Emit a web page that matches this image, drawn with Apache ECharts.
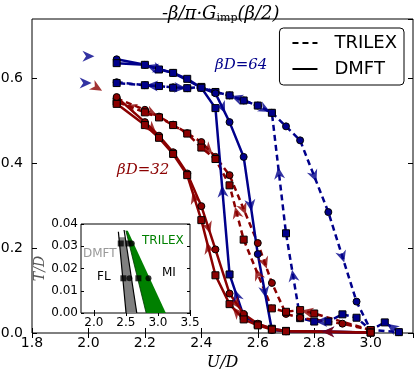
<!DOCTYPE html>
<html><head><meta charset="utf-8">
<script src="https://cdn.jsdelivr.net/npm/echarts@6/dist/echarts.min.js"></script>
<style>html,body{margin:0;padding:0;background:#fff}#c{width:415px;height:372px}</style>
</head><body><div id="c"></div>
<script>
// ---- main panel data: [U/D, -beta/pi * G_imp(beta/2)] ----
// beta D = 64, DMFT (solid blue)
const dmft64Up = [[2.1,0.645],[2.2,0.632],[2.3,0.613],[2.4,0.578],[2.45,0.565],[2.5,0.497],[2.55,0.415],[2.6,0.186],[2.65,0.007],[2.7,0.004],[3.0,0.001]];
const dmft64Down = [[3.0,0.001],[2.7,0.005],[2.65,0.01],[2.6,0.02],[2.55,0.04],[2.5,0.138],[2.45,0.53],[2.4,0.578],[2.35,0.599],[2.3,0.613],[2.25,0.621],[2.2,0.632],[2.1,0.636]];
// beta D = 32, DMFT (solid red)
const dmft32Up = [[2.1,0.556],[2.2,0.497],[2.25,0.465],[2.3,0.426],[2.35,0.376],[2.4,0.299],[2.45,0.197],[2.5,0.093],[2.55,0.045],[2.6,0.022],[2.65,0.01],[2.7,0.005],[3.0,0.001]];
const dmft32Down = [[3.0,0.001],[2.7,0.004],[2.65,0.008],[2.6,0.018],[2.55,0.032],[2.5,0.068],[2.45,0.136],[2.4,0.266],[2.35,0.372],[2.3,0.422],[2.25,0.46],[2.2,0.49],[2.1,0.54]];
// beta D = 32, TRILEX (dashed red)
const trilex32Up = [[2.1,0.553],[2.2,0.526],[2.25,0.51],[2.3,0.491],[2.35,0.471],[2.4,0.45],[2.45,0.415],[2.5,0.372],[2.6,0.212],[2.65,0.118],[2.7,0.045],[2.75,0.036],[2.9,0.022],[3.0,0.007]];
const trilex32Down = [[3.0,0.007],[2.8,0.046],[2.75,0.054],[2.7,0.05],[2.65,0.058],[2.55,0.22],[2.5,0.348],[2.45,0.41],[2.4,0.437],[2.35,0.47],[2.3,0.49],[2.25,0.508],[2.2,0.52],[2.1,0.545]];
// beta D = 64, TRILEX (dashed blue)
const trilex64Up = [[2.1,0.591],[2.2,0.584],[2.25,0.582],[2.3,0.579],[2.35,0.577],[2.4,0.578],[2.45,0.568],[2.5,0.56],[2.55,0.548],[2.6,0.536],[2.65,0.519],[2.7,0.487],[2.75,0.454],[2.85,0.285],[2.95,0.074],[3.0,0.007],[3.1,0.002]];
const trilex64Down = [[3.1,0.002],[3.05,0.025],[3.0,0.007],[2.95,0.036],[2.9,0.044],[2.85,0.027],[2.8,0.027],[2.75,0.035],[2.7,0.235],[2.65,0.519],[2.6,0.536],[2.55,0.548],[2.5,0.56],[2.45,0.568],[2.4,0.58],[2.35,0.577],[2.3,0.578],[2.25,0.582],[2.2,0.584],[2.1,0.589]];
// segments (index i -> i+1) carrying a direction arrow
const dmft64UpArrows = [1,4,6,7];
const dmft64DownArrows = [0,4,5,10];
const dmft32UpArrows = [1,5,7];
const dmft32DownArrows = [0,4,6,7];
const trilex32UpArrows = [1,5,7,8];
const trilex32DownArrows = [1,4,5,12];
const trilex64UpArrows = [3,9,12,13];
const trilex64DownArrows = [0,5,7,8,11,17];
// lone arrows on the left
const startArrows64 = [[2.0,0.652],[1.99,0.589]];
const startArrows32 = [[2.03,0.578]];

// ---- inset: phase diagram T/D vs U/D ----
const insetXTicks = [2.0,2.5,3.0,3.5];
const insetDmftLeft = [[2.383,0.0365],[2.503,0.0]];
const insetDmftRight = [[2.472,0.0373],[2.67,0.0]];
const insetDmftFill = [[2.391,0.034],[2.489,0.034],[2.67,0.0],[2.503,0.0]];
const insetTrilexFill = [[2.50,0.037],[2.53,0.037],[3.123,0.0],[2.816,0.0]];
const insetTrilexEdge = [[2.50,0.037],[2.816,0.0]];
const insetSquares = [[2.42,0.03125],[2.539,0.03125],[2.461,0.0156],[2.695,0.0156]];
const insetCircles = [[2.592,0.03125],[2.555,0.0156],[2.852,0.0156]];

const BLUE = '#00008b', RED = '#8b0000';
const ARROW = 'path://M0,0 L10,5 L0,10 L3,5 Z';

const chart = echarts.init(document.getElementById('c'), null, {renderer:'canvas'});

function lineSeries(id, data, color, dashed, symbol){
  return {id, type:'line', data, xAxisIndex:0, yAxisIndex:0, symbol, symbolSize:7,
    lineStyle:{color, width:2.5, type: dashed?[6,4]:'solid'},
    itemStyle:{color, borderColor:'#000', borderWidth:1}, z:3, animation:false, silent:true};
}
const curves = [
  ['t64u', trilex64Up, BLUE, true, 'circle', trilex64UpArrows],
  ['t64d', trilex64Down, BLUE, true, 'rect', trilex64DownArrows],
  ['t32u', trilex32Up, RED, true, 'circle', trilex32UpArrows],
  ['t32d', trilex32Down, RED, true, 'rect', trilex32DownArrows],
  ['d64u', dmft64Up, BLUE, false, 'circle', dmft64UpArrows],
  ['d64d', dmft64Down, BLUE, false, 'rect', dmft64DownArrows],
  ['d32u', dmft32Up, RED, false, 'circle', dmft32UpArrows],
  ['d32d', dmft32Down, RED, false, 'rect', dmft32DownArrows]
];

const polySeries = (id, poly, fill) => ({id, type:'custom', xAxisIndex:2, yAxisIndex:2, clip:true, silent:true, animation:false, z:2,
  data:[[2.6,0.01]],
  renderItem:(p, api)=>({type:'polygon', shape:{points: poly.map(q=>api.coord(q))}, style:{fill, stroke:'none'}})
});

const axisTickStyle = {inside:true, length:5, lineStyle:{color:'#000', width:1}};
const lbl = (fs, dec) => ({color:'#000', fontFamily:'DejaVu Sans', fontSize:fs, formatter:v=>v.toFixed(dec)});

const series = [];
curves.forEach(c=>series.push(lineSeries(c[0], c[1], c[2], c[3], c[4])));
curves.forEach(c=>series.push({id:c[0]+'_arr', type:'scatter', xAxisIndex:0, yAxisIndex:0, data:[], symbol:ARROW, symbolSize:[12,11], itemStyle:{color:c[2]}, z:4, silent:true, animation:false}));
series.push({id:'s64', type:'scatter', data:startArrows64, symbol:ARROW, symbolSize:[12,11], itemStyle:{color:BLUE}, silent:true, animation:false});
series.push({id:'s32', type:'scatter', data:startArrows32, symbol:ARROW, symbolSize:[12,11], symbolRotate:-30, itemStyle:{color:RED}, silent:true, animation:false});
// legend proxies
series.push({name:'TRILEX', type:'line', data:[], symbol:'none', showSymbol:false, lineStyle:{color:'#000', width:3, type:[6,4]}, itemStyle:{color:'#000'}});
series.push({name:'DMFT', type:'line', data:[], symbol:'none', showSymbol:false, lineStyle:{color:'#000', width:3}, itemStyle:{color:'#000'}});
// inset
series.push(polySeries('gfill', insetDmftFill, '#808080'));
series.push(polySeries('tfill', insetTrilexFill, '#008000'));
[insetDmftLeft, insetDmftRight].forEach((d,i)=>series.push({id:'dl'+i, type:'line', xAxisIndex:2, yAxisIndex:2, data:d, symbol:'none', lineStyle:{color:'#000', width:1.2}, silent:true, animation:false, z:3}));
series.push({id:'tedge', type:'line', xAxisIndex:2, yAxisIndex:2, data:insetTrilexEdge, symbol:'none', lineStyle:{color:'#003300', width:0.8}, silent:true, animation:false, z:3});
series.push({id:'isq', type:'scatter', xAxisIndex:2, yAxisIndex:2, data:insetSquares, symbol:'rect', symbolSize:6, itemStyle:{color:'#000'}, silent:true, animation:false, z:5});
series.push({id:'ici', type:'scatter', xAxisIndex:2, yAxisIndex:2, data:insetCircles, symbol:'circle', symbolSize:6, itemStyle:{color:'#000'}, silent:true, animation:false, z:5});

const option = {
  animation:false,
  backgroundColor:'#fff',
  title:{text:'{t|-β/π·G}{s|imp}{t|(β/2)}', left:157, top:-3,
    textStyle:{fontWeight:'normal', rich:{t:{fontFamily:'DejaVu Serif', fontStyle:'italic', fontWeight:'normal', fontSize:18, color:'#000', lineHeight:24},
                     s:{fontFamily:'DejaVu Serif', fontWeight:'normal', fontSize:11, color:'#000', lineHeight:24, padding:[9,0,0,0]}}}},
  legend:{data:['TRILEX','DMFT'], orient:'vertical', right:11, top:28, itemWidth:25, itemHeight:14, itemGap:6,
    padding:[5,7,6,12], backgroundColor:'#fff', borderColor:'#000', borderWidth:1, borderRadius:4,
    itemStyle:{color:'rgba(0,0,0,0)', borderColor:'rgba(0,0,0,0)', borderWidth:0},
    textStyle:{fontFamily:'DejaVu Sans', fontSize:18, color:'#000', lineHeight:20, padding:[0,0,0,12]}, selectedMode:false},
  grid:[
    {left:32, top:19, right:2, bottom:39, show:true, borderColor:'#000', borderWidth:1, backgroundColor:'#fff', outerBoundsMode:'none', containLabel:false},
    {left:81, top:224, width:109, height:89, show:true, borderColor:'#000', borderWidth:1, backgroundColor:'#fff', outerBoundsMode:'none', containLabel:false}
  ],
  xAxis:[
    {type:'value', gridIndex:0, min:1.8, max:3.15, interval:0.2, axisLine:{show:false}, splitLine:{show:false},
     axisTick:axisTickStyle, axisLabel:Object.assign(lbl(14,1),{margin:3, showMaxLabel:false}),
     name:'U/D', nameLocation:'middle', nameGap:19, nameTextStyle:{fontFamily:'DejaVu Serif', fontStyle:'italic', fontSize:16, color:'#000'}},
    {type:'value', gridIndex:0, position:'top', min:1.8, max:3.15, interval:0.2, axisLine:{show:false}, splitLine:{show:false},
     axisTick:axisTickStyle, axisLabel:{show:false}},
    {type:'value', gridIndex:1, min:1.8, max:3.5, axisLine:{show:false}, splitLine:{show:false},
     axisTick:Object.assign({}, axisTickStyle, {length:3, customValues:insetXTicks}),
     axisLabel:Object.assign(lbl(12,1),{margin:4, customValues:insetXTicks})},
    {type:'value', gridIndex:1, position:'top', min:1.8, max:3.5, axisLine:{show:false}, splitLine:{show:false},
     axisTick:Object.assign({}, axisTickStyle, {length:3, customValues:insetXTicks}), axisLabel:{show:false}}
  ],
  yAxis:[
    {type:'value', gridIndex:0, min:0, max:0.74, interval:0.2, axisLine:{show:false}, splitLine:{show:false},
     axisTick:axisTickStyle, axisLabel:Object.assign(lbl(14,1),{margin:9, showMaxLabel:false})},
    {type:'value', gridIndex:0, position:'right', min:0, max:0.74, interval:0.2, axisLine:{show:false}, splitLine:{show:false},
     axisTick:axisTickStyle, axisLabel:{show:false}},
    {type:'value', gridIndex:1, min:0, max:0.04, interval:0.01, axisLine:{show:false}, splitLine:{show:false},
     axisTick:Object.assign({}, axisTickStyle, {length:3}), axisLabel:Object.assign(lbl(12,2),{margin:3}),
     name:'T/D', nameLocation:'middle', nameGap:34, nameRotate:90, nameTextStyle:{fontFamily:'DejaVu Serif', fontStyle:'italic', fontSize:14, color:'#555'}},
    {type:'value', gridIndex:1, position:'right', min:0, max:0.04, interval:0.01, axisLine:{show:false}, splitLine:{show:false},
     axisTick:Object.assign({}, axisTickStyle, {length:3}), axisLabel:{show:false}}
  ],
  graphic:[
    {type:'text', left:215, top:58, style:{text:'βD=64', font:'italic 15px "DejaVu Serif"', fill:BLUE}},
    {type:'text', left:117, top:163, style:{text:'βD=32', font:'italic 15px "DejaVu Serif"', fill:RED}},
    {type:'text', left:83, top:248, z:20, style:{text:'DMFT', font:'12px "DejaVu Sans"', fill:'#999'}},
    {type:'text', left:97, top:271, z:20, style:{text:'FL', font:'12px "DejaVu Sans"', fill:'#000'}},
    {type:'text', left:142, top:235, z:20, style:{text:'TRILEX', font:'12px "DejaVu Sans"', fill:'#008000'}},
    {type:'text', left:162, top:267, z:20, style:{text:'MI', font:'12px "DejaVu Sans"', fill:'#000'}}
  ],
  series
};
chart.setOption(option);

function arrowData(pts, segs){
  return segs.map(i=>{
    const a = pts[i], b = pts[i+1];
    const pa = chart.convertToPixel({gridIndex:0}, a), pb = chart.convertToPixel({gridIndex:0}, b);
    const ang = Math.atan2(-(pb[1]-pa[1]), pb[0]-pa[0]) * 180 / Math.PI;
    return {value:[(a[0]+b[0])/2, (a[1]+b[1])/2], symbolRotate: ang};
  });
}
chart.setOption({series: curves.map(c=>({id:c[0]+'_arr', data: arrowData(c[1], c[5])}))});
</script></body></html>
